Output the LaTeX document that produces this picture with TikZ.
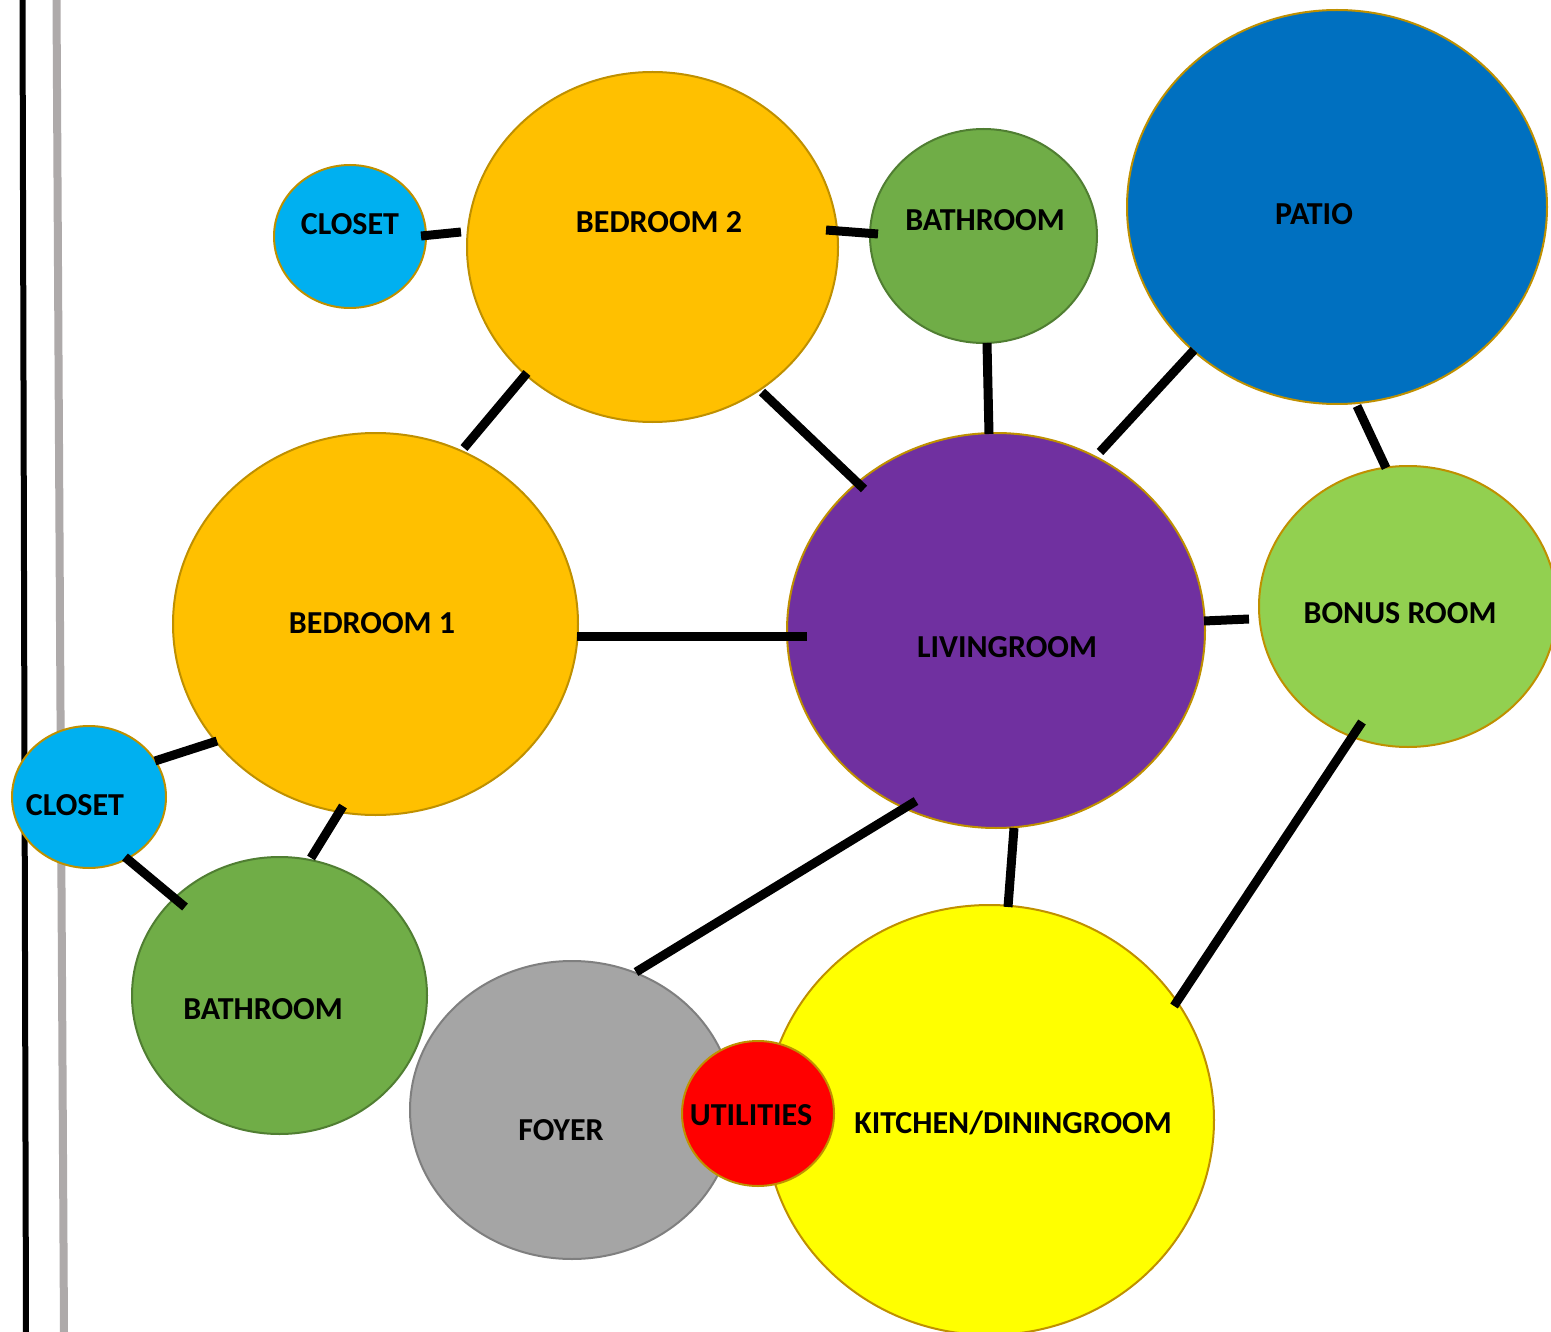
\documentclass[tikz,border=0pt]{standalone}
\usepackage{fontspec}
\setmainfont{Carlito}
\usetikzlibrary{shapes.geometric}
\definecolor{cCyan}{HTML}{00B0F0}
\definecolor{cOrange}{HTML}{FFC000}
\definecolor{cGold}{HTML}{BF9000}
\definecolor{cGreen}{HTML}{70AD47}
\definecolor{cGreenB}{HTML}{507E32}
\definecolor{cBlue}{HTML}{0070C0}
\definecolor{cPurple}{HTML}{7030A0}
\definecolor{cLGreen}{HTML}{92D050}
\definecolor{cGrey}{HTML}{A5A5A5}
\definecolor{cGreyB}{HTML}{7F7F7F}
\definecolor{cYellow}{HTML}{FFFF00}
\definecolor{cRed}{HTML}{FF0000}
\definecolor{cWall}{HTML}{AEAAAA}
\tikzset{
  room/.style={ellipse, draw=cGold, line width=2pt, inner sep=0pt},
  lbl/.style={font=\fontsize{32}{38}\selectfont\bfseries, text=black, inner sep=0pt},
  link/.style={line width=9pt, line cap=butt, draw=black},
}
\begin{document}
\begin{tikzpicture}[x=1pt,y=-1pt]
\useasboundingbox (0,0) rectangle (1551,1332);
\clip (0,0) rectangle (1551,1332);
\fill[white] (0,0) rectangle (1551,1332);
% walls
\coordinate (w1a) at (22.5,0); \coordinate (w1b) at (26,1332);
\coordinate (w2a) at (56.5,0); \coordinate (w2b) at (64,1332);
\draw[line width=6pt, black] (w1a) -- (w1b);
\draw[line width=8pt, cWall] (w2a) -- (w2b);
% rooms
\node[room, fill=cCyan, minimum width=152pt, minimum height=143pt] (closetA) at (350,236.5) {};
\node[room, fill=cOrange, minimum width=371pt, minimum height=350pt] (bed2) at (652.5,247) {};
\node[room, fill=cGreen, draw=cGreenB, minimum width=227pt, minimum height=214pt] (bathA) at (983.5,236) {};
\node[room, fill=cBlue, minimum width=420pt, minimum height=394pt] (patio) at (1337,207) {};
\node[room, fill=cOrange, minimum width=405pt, minimum height=382pt] (bed1) at (375.5,624) {};
\node[room, fill=cPurple, minimum width=418pt, minimum height=395pt] (living) at (996,630.5) {};
\node[room, fill=cLGreen, minimum width=298pt, minimum height=281pt] (bonus) at (1408,606.5) {};
\node[room, fill=cCyan, minimum width=154pt, minimum height=142pt] (closetB) at (89,797) {};
\node[room, fill=cGreen, draw=cGreenB, minimum width=295pt, minimum height=277pt] (bathB) at (279.5,995.5) {};
\node[room, fill=cGrey, draw=cGreyB, minimum width=324pt, minimum height=298pt] (foyer) at (572,1110) {};
\node[room, fill=cYellow, minimum width=449pt, minimum height=430pt] (kitchen) at (989.5,1120) {};
\node[room, fill=cRed, minimum width=152pt, minimum height=145pt] (util) at (758,1113.5) {};
% labels
\node[lbl] (tClosetA) at (350,224) {CLOSET};
\node[lbl] (tBed2) at (659,222) {BEDROOM 2};
\node[lbl] (tBathA) at (985,220) {BATHROOM};
\node[lbl] (tPatio) at (1314,214) {PATIO};
\node[lbl] (tBed1) at (372,623) {BEDROOM 1};
\node[lbl] (tLiving) at (1007,647) {LIVINGROOM};
\node[lbl] (tBonus) at (1400,613) {BONUS ROOM};
\node[lbl] (tClosetB) at (75,805) {CLOSET};
\node[lbl] (tBathB) at (263,1009) {BATHROOM};
\node[lbl] (tFoyer) at (561,1130) {FOYER};
\node[lbl] (tUtil) at (751,1115) {UTILITIES};
\node[lbl] (tKitchen) at (1013,1123) {KITCHEN/DININGROOM};
% connector ends
\coordinate (c1a) at (421,236); \coordinate (c1b) at (461,232);
\coordinate (c2a) at (826,230); \coordinate (c2b) at (878,234);
\coordinate (c3a) at (987,343); \coordinate (c3b) at (989,434);
\coordinate (c4a) at (527,373); \coordinate (c4b) at (464,448);
\coordinate (c5a) at (762,392); \coordinate (c5b) at (864,489);
\coordinate (c6a) at (1194,350); \coordinate (c6b) at (1100,452);
\coordinate (c7a) at (1357,406); \coordinate (c7b) at (1386,468);
\coordinate (c8a) at (577,636); \coordinate (c8b) at (807,636);
\coordinate (c9a) at (1204,621); \coordinate (c9b) at (1249,619);
\coordinate (c10a) at (1362,722); \coordinate (c10b) at (1174,1006);
\coordinate (c11a) at (1014,828); \coordinate (c11b) at (1008,907);
\coordinate (c12a) at (916,801); \coordinate (c12b) at (636,972);
\coordinate (c13a) at (155,761); \coordinate (c13b) at (217,741);
\coordinate (c14a) at (125,857); \coordinate (c14b) at (185,907);
\coordinate (c15a) at (343,806); \coordinate (c15b) at (311,858);
% connectors
\draw[link] (c1a) -- (c1b);
\draw[link] (c2a) -- (c2b);
\draw[link] (c3a) -- (c3b);
\draw[link] (c4a) -- (c4b);
\draw[link] (c5a) -- (c5b);
\draw[link] (c6a) -- (c6b);
\draw[link] (c7a) -- (c7b);
\draw[link] (c8a) -- (c8b);
\draw[link] (c9a) -- (c9b);
\draw[link] (c10a) -- (c10b);
\draw[link] (c11a) -- (c11b);
\draw[link] (c12a) -- (c12b);
\draw[link] (c13a) -- (c13b);
\draw[link] (c14a) -- (c14b);
\draw[link] (c15a) -- (c15b);
\end{tikzpicture}
\end{document}
